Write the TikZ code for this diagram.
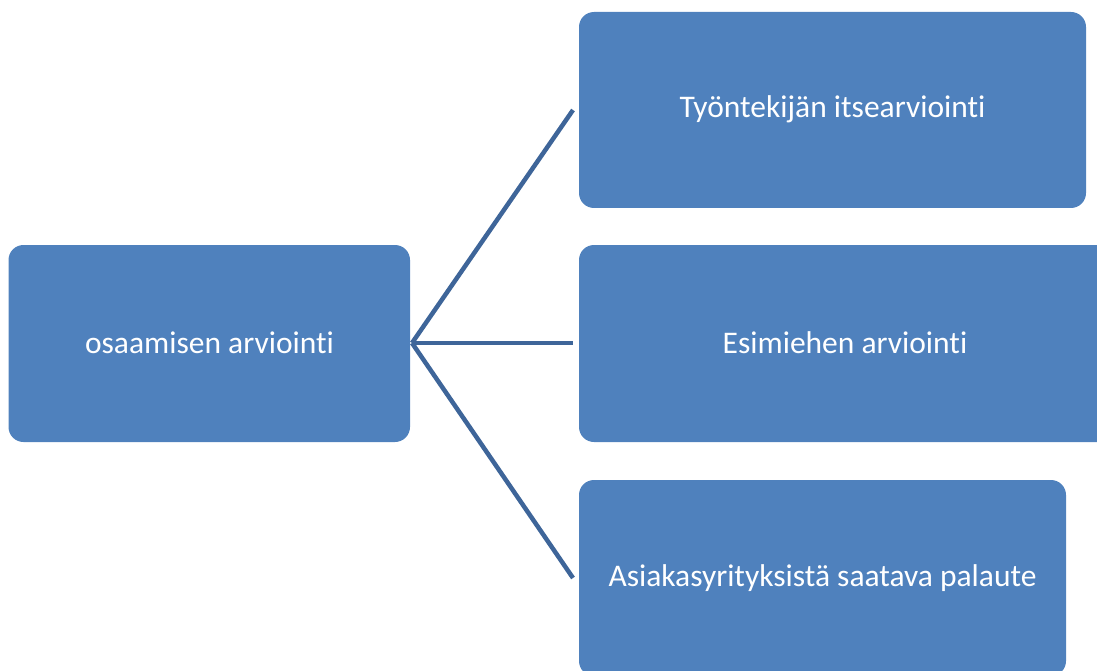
\documentclass[tikz,border=0pt]{standalone}
\usepackage{fontspec}
\setmainfont{Carlito}[Ligatures={NoCommon,NoContextual}]
\definecolor{boxfill}{HTML}{4F81BD}
\definecolor{linkcol}{HTML}{3E6599}
\tikzset{
  box/.style={fill=boxfill, rounded corners=15pt, inner sep=0pt},
  boxtext/.style={text=white, font=\fontsize{31.5}{36}\selectfont, anchor=center},
  link/.style={draw=linkcol, line width=4.5pt}
}
\begin{document}
\begin{tikzpicture}[x=1pt,y=-1pt]
\useasboundingbox (0,0) rectangle (1097,671);
\clip (0,0) rectangle (1097,671);
% boxes
\path[box] (8.5,245) rectangle (410,442);
\path[box] (579,12) rectangle (1086,208);
\path[box] (579,245) rectangle (1112,442);
\path[box] (579,480) rectangle (1066,676);
\node[boxtext] (root) at (209.5,343) {osaamisen arviointi};
\node[boxtext] (a) at (832.5,109) {Työntekijän itsearviointi};
\node[boxtext] (b) at (845,343) {Esimiehen arviointi};
\node[boxtext] (c) at (822.5,578) {Asiakasyrityksistä saatava palaute};
\coordinate (hub) at (412,343);
\coordinate (ea) at (573,110);
\coordinate (eb) at (573,343);
\coordinate (ec) at (573,578);
\draw[link] (hub) -- (ea);
\draw[link] (hub) -- (eb);
\draw[link] (hub) -- (ec);
\end{tikzpicture}
\end{document}
